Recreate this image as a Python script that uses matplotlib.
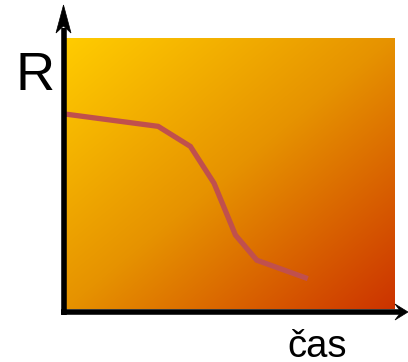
import matplotlib
matplotlib.use('Agg')
import matplotlib.pyplot as plt
import numpy as np
from matplotlib.colors import LinearSegmentedColormap
from matplotlib.patches import Polygon
from matplotlib.lines import Line2D

# time (cas) and R values, 0..100 scale
cas = [0, 28, 37.8, 45, 51.5, 58, 73.5]
R = [71.9, 67.4, 60, 46.4, 27.3, 18, 11.2]

W, H = 408, 362
fig = plt.figure(figsize=(W / 100, H / 100), dpi=100)


def f(x, y):
    # pixel position (from top-left) -> figure fraction
    return (x / W, 1 - y / H)


# plot area (gradient rectangle) in pixels
left, right, top, bottom = 66, 395, 38, 309
ax = fig.add_axes([left / W, 1 - bottom / H, (right - left) / W, (bottom - top) / H])
ax.set_xlim(0, 100)
ax.set_ylim(0, 100)

# diagonal gradient from yellow (top-left) to red-orange (bottom-right)
n = 256
gx, gy = np.meshgrid(np.linspace(0, 1, n), np.linspace(0, 1, n))
grad = (gx + gy) / 2
cmap = LinearSegmentedColormap.from_list('g', ['#FFCC00', '#E69200', '#CC3300'])
ax.imshow(grad, cmap=cmap, extent=[0, 100, 0, 100], origin='upper',
          aspect='auto', interpolation='bilinear', zorder=0)

ax.plot(cas, R, color='#C0504D', lw=3.8, solid_joinstyle='miter',
        solid_capstyle='butt', zorder=2)
ax.set_axis_off()

# axes with arrows, drawn in figure pixel coordinates
ox, oy = 63.5, 312
for xs, ys in [((ox, ox), (oy + 3, 28)), ((ox - 2.5, 401), (oy, oy))]:
    p0, p1 = f(xs[0], ys[0]), f(xs[1], ys[1])
    fig.add_artist(Line2D([p0[0], p1[0]], [p0[1], p1[1]], color='black',
                          lw=4.0, transform=fig.transFigure, solid_capstyle='butt'))
heads = [
    [(ox, 5), (56, 33), (ox, 26), (71, 33)],
    [(408, oy), (395, oy - 8), (401, oy), (395, oy + 8)],
]
for pts in heads:
    fig.add_artist(Polygon([f(x, y) for x, y in pts], closed=True,
                           facecolor='black', edgecolor='black', lw=0.5,
                           transform=fig.transFigure))

fig.text(15 / W, 1 - 90 / H, 'R', fontsize=39, family='Liberation Sans',
         ha='left', va='baseline')
fig.text(287 / W, 1 - 357 / H, 'čas', fontsize=27.5, family='Liberation Sans',
         ha='left', va='baseline')

fig.savefig('out.png', dpi=100)
